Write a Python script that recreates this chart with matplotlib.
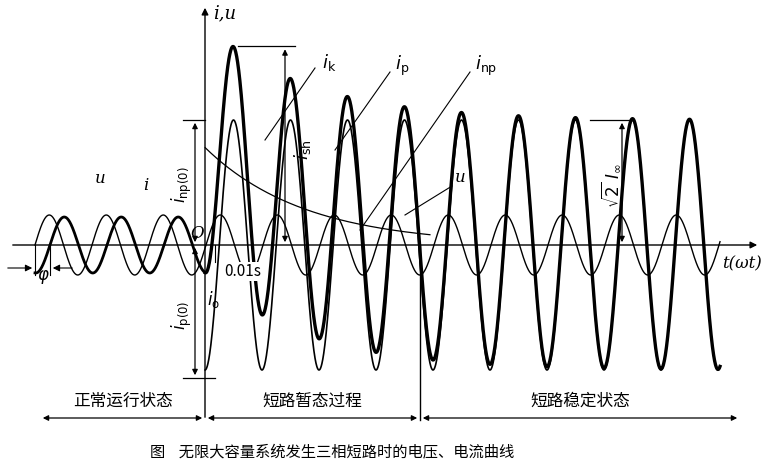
import numpy as np
import matplotlib
matplotlib.use("Agg")
import matplotlib.pyplot as plt

plt.rcParams['font.family'] = ['Noto Sans CJK SC', 'DejaVu Sans']

# schematic parameters (pixel units)
x_fault = 205          # moment of short circuit
x_steady = 420         # end of transient
period = 57            # period of the waves
amp_u = 30             # voltage amplitude
amp_i_pre = 28         # pre-fault current amplitude
amp_ip = 125           # periodic short-circuit current amplitude
tau = 100              # decay of aperiodic component
phi = 15               # phase angle between u and i
y0 = 245               # time axis

stage_labels = ["正常运行状态", "短路暂态过程", "短路稳定状态"]
stage_bounds = [40, x_fault, x_steady, 740]
caption = "图    无限大容量系统发生三相短路时的电压、电流曲线"

fig = plt.figure(figsize=(7.75, 4.70), dpi=100)
ax = fig.add_axes([0, 0, 1, 1])
ax.set_xlim(0, 775)
ax.set_ylim(470, 0)
ax.axis("off")

w = 2 * np.pi / period
x_all = np.linspace(35, 720, 3000)
x_pre = x_all[x_all <= x_fault]
x_post = x_all[x_all >= x_fault]

# voltage, whole range
u = amp_u * np.sin(w * (x_all - 35))
ax.plot(x_all, y0 - u, color="black", lw=1.0)
# pre-fault current
i_pre = amp_i_pre * np.sin(w * (x_pre - 35 - phi))
ax.plot(x_pre, y0 - i_pre, color="black", lw=2.0)
# periodic component, starts at its minimum
ip = -amp_ip * np.cos(w * (x_post - x_fault))
i_fault = amp_i_pre * np.sin(w * (x_fault - 35 - phi))
inp = (i_fault + amp_ip) * np.exp(-(x_post - x_fault) / tau)
ax.plot(x_post, y0 - ip, color="black", lw=1.2)
ax.plot(x_post[x_post < 430], y0 - inp[x_post < 430], color="black", lw=0.9)
ax.plot(x_post, y0 - (ip + inp), color="black", lw=2.4)

# axes
ax.annotate("", xy=(760, y0), xytext=(10, y0),
            arrowprops=dict(arrowstyle="-|>", color="black", lw=1))
ax.annotate("", xy=(x_fault, 5), xytext=(x_fault, 420),
            arrowprops=dict(arrowstyle="-|>", color="black", lw=1))
ax.text(x_fault + 8, 18, "i,u", fontsize=13, style="italic", family="DejaVu Serif")
ax.text(722, 268, "t(ωt)", fontsize=12, style="italic", family="DejaVu Serif")
ax.text(190, 238, "O", fontsize=12, style="italic", family="DejaVu Serif")
ax.plot([x_steady, x_steady], [y0, 420], color="black", lw=1)

def varrow(x, ya, yb):
    ax.annotate("", xy=(x, ya), xytext=(x, yb),
                arrowprops=dict(arrowstyle="<|-|>", color="black", lw=0.9, mutation_scale=8))

ypk = y0 - np.max(ip + inp)
ax.plot([238, 295], [ypk, ypk], color="black", lw=0.9)
varrow(285, ypk, y0)
ax.text(292, 150, r"$i_{\rm sh}$", fontsize=13, rotation=90, va="center")
ax.plot([183, x_fault], [y0 - amp_ip, y0 - amp_ip], color="black", lw=0.9)
varrow(195, y0 - amp_ip, y0)
ax.text(170, 185, r"$i_{\rm np(0)}$", fontsize=12, rotation=90, va="center")
ax.plot([183, 215], [y0 + amp_ip + 8, y0 + amp_ip + 8], color="black", lw=0.9)
varrow(195, y0, y0 + amp_ip + 8)
ax.text(170, 315, r"$i_{\rm p(0)}$", fontsize=12, rotation=90, va="center")
ax.plot([590, 632], [y0 - amp_ip, y0 - amp_ip], color="black", lw=0.9)
varrow(622, y0 - amp_ip, y0)
ax.text(600, 185, r"$\sqrt{2}\ I_{\infty}$", fontsize=12, rotation=90, va="center")

# phi
ax.annotate("", xy=(35, 268), xytext=(5, 268), arrowprops=dict(arrowstyle="-|>", lw=0.8, color="black"))
ax.annotate("", xy=(50, 268), xytext=(75, 268), arrowprops=dict(arrowstyle="-|>", lw=0.8, color="black"))
ax.text(37, 280, r"$\varphi$", fontsize=12)
ax.plot([35, 35], [y0, 275], color="black", lw=0.8)
ax.plot([50, 50], [y0, 275], color="black", lw=0.8)
ax.text(224, 276, "0.01s", fontsize=11, bbox=dict(fc="white", ec="none", pad=0.5))
ax.plot([215, 215], [y0, 262], color="black", lw=0.8)
ax.text(207, 305, r"$i_{\rm o}$", fontsize=12)

# curve labels
ax.text(95, 183, "u", fontsize=12, style="italic", family="DejaVu Serif")
ax.text(143, 190, "i", fontsize=12, style="italic", family="DejaVu Serif")
ax.text(322, 68, r"$i_{\rm k}$", fontsize=13)
ax.plot([315, 265], [68, 140], color="black", lw=0.8)
ax.text(395, 70, r"$i_{\rm p}$", fontsize=13)
ax.plot([390, 335], [72, 150], color="black", lw=0.8)
ax.text(475, 70, r"$i_{\rm np}$", fontsize=13)
ax.plot([470, 360], [72, 230], color="black", lw=0.8)
ax.text(455, 182, "u", fontsize=12, style="italic", family="DejaVu Serif")
ax.plot([452, 405], [186, 215], color="black", lw=0.8)

# stages
for a, b, lab in zip(stage_bounds[:-1], stage_bounds[1:], stage_labels):
    ax.annotate("", xy=(a, 418), xytext=(b, 418),
                arrowprops=dict(arrowstyle="<|-|>", color="black", lw=0.9, mutation_scale=8))
    ax.text((a + b) / 2, 410, lab, fontsize=12, ha="center", va="bottom")
ax.text(150, 452, caption, fontsize=11, va="center")

fig.savefig("out.png", dpi=100, facecolor="white")
